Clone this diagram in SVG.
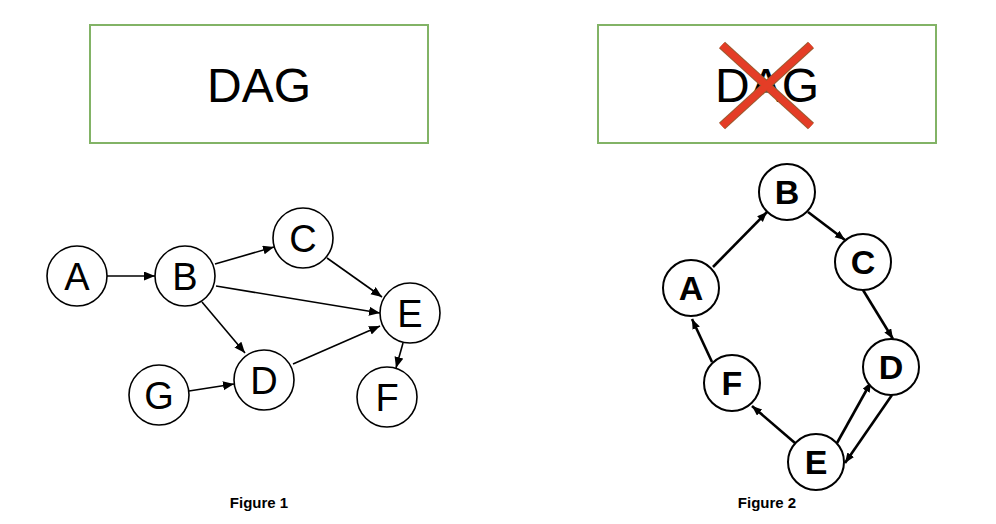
<svg xmlns="http://www.w3.org/2000/svg" width="996" height="524" viewBox="0 0 996 524">
<defs>
<style>
.box{fill:#fff;stroke:#82b366;stroke-width:2}
.title{font-family:"Liberation Sans",Arial,sans-serif;font-size:48px;fill:#000;text-anchor:middle}
.n1 circle{fill:#fff;stroke:#000;stroke-width:1.6}
.n1 text{font-family:"Liberation Sans",Arial,sans-serif;font-size:38px;fill:#000;text-anchor:middle}
.n2 circle{fill:#fff;stroke:#000;stroke-width:2}
.n2 text{font-family:"Liberation Sans",Arial,sans-serif;font-size:34px;font-weight:bold;fill:#000;text-anchor:middle}
.e1{stroke:#000;stroke-width:1.6;fill:none;marker-end:url(#a1)}
.e2{stroke:#000;stroke-width:2.6;fill:none;marker-end:url(#a2)}
.cap{font-family:"Liberation Sans",Arial,sans-serif;font-size:15px;font-weight:bold;fill:#000;text-anchor:middle}
</style>
<marker id="a1" markerUnits="userSpaceOnUse" markerWidth="12" markerHeight="10" refX="11" refY="4.5" orient="auto"><path d="M0,0 L11,4.5 L0,9 Z" fill="#000"/></marker>
<marker id="a2" markerUnits="userSpaceOnUse" markerWidth="12" markerHeight="10" refX="10" refY="4" orient="auto"><path d="M0,0 L10,4 L0,8 Z" fill="#000"/></marker>
</defs>
<rect width="996" height="524" fill="#fff"/>
<g id="box1"><rect class="box" x="90" y="25" width="338" height="118"/><text class="title" x="259" y="102">DAG</text></g>
<g id="box2"><rect class="box" x="598" y="25" width="338" height="118"/><text class="title" x="767" y="102">DAG</text>
<g stroke-linecap="butt"><line x1="722" y1="45" x2="811" y2="126" stroke="#9a5a30" stroke-width="9"/><line x1="811" y1="45" x2="722" y2="126" stroke="#9a5a30" stroke-width="9"/><line x1="722" y1="45" x2="811" y2="126" stroke="#e43d26" stroke-width="7"/><line x1="811" y1="45" x2="722" y2="126" stroke="#e43d26" stroke-width="7"/></g></g>
<g id="connectors1">
<line class="e1" x1="107" y1="276" x2="155" y2="276"/>
<line class="e1" x1="215" y1="264" x2="274" y2="247"/>
<line class="e1" x1="216" y1="286" x2="380" y2="313"/>
<line class="e1" x1="327" y1="258" x2="382" y2="297"/>
<line class="e1" x1="202" y1="302" x2="245" y2="353"/>
<line class="e1" x1="189" y1="391" x2="234" y2="384"/>
<line class="e1" x1="293" y1="364" x2="380" y2="326"/>
<line class="e1" x1="403" y1="343" x2="396" y2="368"/>
</g>
<g id="L-A" class="n1"><circle cx="77" cy="276" r="30"/><text x="77" y="290">A</text></g>
<g id="L-B" class="n1"><circle cx="185" cy="276" r="30"/><text x="185" y="290">B</text></g>
<g id="L-C" class="n1"><circle cx="303" cy="238" r="30"/><text x="303" y="252">C</text></g>
<g id="L-E" class="n1"><circle cx="410" cy="313" r="30"/><text x="410" y="327">E</text></g>
<g id="L-D" class="n1"><circle cx="264" cy="380" r="30"/><text x="264" y="394">D</text></g>
<g id="L-G" class="n1"><circle cx="159" cy="395" r="30"/><text x="159" y="409">G</text></g>
<g id="L-F" class="n1"><circle cx="387" cy="397" r="30"/><text x="387" y="411">F</text></g>
<g id="connectors2">
<line class="e2" x1="713" y1="267" x2="767" y2="212"/>
<line class="e2" x1="808" y1="212" x2="845" y2="240"/>
<line class="e2" x1="863" y1="290" x2="893" y2="339"/>
<line class="e2" x1="892" y1="395" x2="845" y2="463"/>
<line class="e2" x1="837" y1="443" x2="871" y2="382"/>
<line class="e2" x1="795" y1="443" x2="752" y2="406"/>
<line class="e2" x1="712" y1="362" x2="692" y2="319"/>
</g>
<g id="R-B" class="n2"><circle cx="787" cy="192" r="28"/><text x="787" y="204">B</text></g>
<g id="R-C" class="n2"><circle cx="863" cy="262" r="28"/><text x="863" y="274">C</text></g>
<g id="R-A" class="n2"><circle cx="691" cy="288" r="28"/><text x="691" y="300">A</text></g>
<g id="R-D" class="n2"><circle cx="891" cy="367" r="28"/><text x="891" y="379">D</text></g>
<g id="R-F" class="n2"><circle cx="732" cy="383" r="28"/><text x="732" y="395">F</text></g>
<g id="R-E" class="n2"><circle cx="816" cy="462" r="28"/><text x="816" y="474">E</text></g>
<text class="cap" x="259" y="508">Figure 1</text>
<text class="cap" x="767" y="508">Figure 2</text>
</svg>
